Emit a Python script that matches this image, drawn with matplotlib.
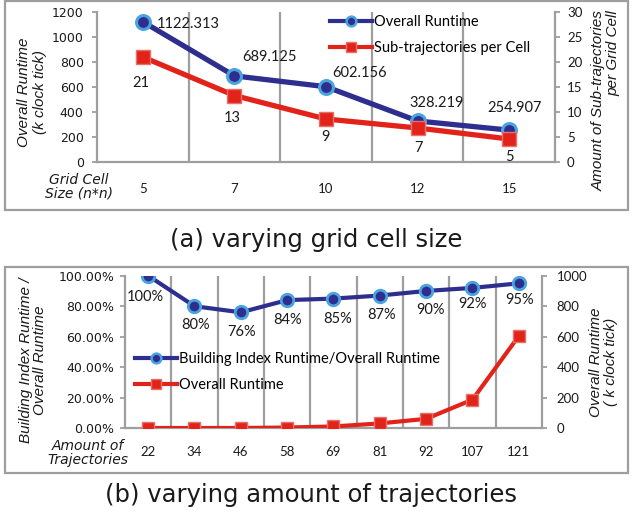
#!/usr/bin/env python3
"""Runtime vs grid cell size / amount of trajectories (two-panel dual-axis line chart)."""

import matplotlib

matplotlib.use("Agg")
import matplotlib.pyplot as plt
from matplotlib.lines import Line2D
from matplotlib.patches import Rectangle
from matplotlib.ticker import FuncFormatter

# ── Data ─────────────────────────────────────────────────────────────────────
grid_sizes = ["5", "7", "10", "12", "15"]
runtime_a = [1122.313, 689.125, 602.156, 328.219, 254.907]
subtraj_per_cell = [21, 13.3, 8.6, 6.8, 4.6]

traj_counts = ["22", "34", "46", "58", "69", "81", "92", "107", "121"]
index_ratio = [100, 80, 76, 84, 85, 87, 90, 92, 95]
runtime_b = [2, 2, 2, 5, 12, 32, 62, 188, 605]

# ── Style ────────────────────────────────────────────────────────────────────
NAVY = "#2E2E8E"
LIGHT_BLUE = "#4AA3DF"
RED = "#E2231A"
RED_EDGE = "#E8706A"
GRAY = "#9E9E9E"
TXT = "#1a1a1a"

W, H = 632, 513
PX = 0.72  # points per pixel at dpi 100

# label offsets in pixels (dx, dy; dy positive = down)
off_runtime_a = [(45, 2), (35, -19), (34, -14), (19, -18), (5, -22)]
off_subtraj = [(-2, 26), (-2, 22), (-1, 18), (1, 20), (0, 18)]
off_ratio = [(-3, 21), (1, 19), (1, 20), (0, 20), (4, 20), (2, 19), (4, 19), (0, 16), (1, 17)]


def fx(px):
    return px / W


def fy(py):
    return 1 - py / H


def style_axes(ax, ax2):
    for s in ("top", "right"):
        ax.spines[s].set_visible(False)
    for s in ("top", "left", "bottom"):
        ax2.spines[s].set_visible(False)
    for sp in (ax.spines["left"], ax.spines["bottom"], ax2.spines["right"]):
        sp.set_color(GRAY)
        sp.set_linewidth(1.6)
    ax.tick_params(axis="y", direction="out", length=3.6, width=1.3, color=GRAY,
                   labelsize=9, labelcolor=TXT, pad=6)
    ax2.tick_params(axis="y", direction="out", length=3.6, width=1.3, color=GRAY,
                    labelsize=9.5, labelcolor=TXT, pad=5)
    for lab in ax2.get_yticklabels():
        lab.set_family("Lato")
    ax.tick_params(axis="x", length=0, labelsize=9.5, labelcolor=TXT)
    for lab in ax.get_xticklabels():
        lab.set_family("Lato")


def main():
    plt.rcParams.update({"font.family": "DejaVu Sans"})
    fig = plt.figure(figsize=(W / 100, H / 100), dpi=100)
    fig.patch.set_facecolor("white")

    # ── Panel boxes ──────────────────────────────────────────────────────────
    for top, bot in ((1, 210), (267, 473)):
        fig.patches.append(Rectangle((fx(5), fy(bot)), fx(628) - fx(5), fy(top) - fy(bot),
                                     transform=fig.transFigure, fill=False,
                                     ec=GRAY, lw=1.6, zorder=0))

    # ── Panel (a) ────────────────────────────────────────────────────────────
    ax_a = fig.add_axes([fx(97), fy(162), fx(555) - fx(97), fy(12) - fy(162)])
    ax_a2 = ax_a.twinx()
    xa = range(len(grid_sizes))
    for b in range(len(grid_sizes) - 1):
        ax_a.axvline(b + 0.5, color=GRAY, lw=1.6, zorder=0)
    ax_a.plot(xa, runtime_a, color=NAVY, lw=3.8, marker="o", ms=10,
              mfc=NAVY, mec=LIGHT_BLUE, mew=2.2, zorder=3)
    ax_a2.plot(xa, subtraj_per_cell, color=RED, lw=3.8, marker="s", ms=9.6,
               mfc=RED, mec=RED_EDGE, mew=1.0, zorder=3)
    ax_a.set_xlim(-0.5, len(grid_sizes) - 0.5)
    ax_a.set_ylim(0, 1200)
    ax_a.set_yticks(range(0, 1201, 200))
    ax_a2.set_ylim(0, 30)
    ax_a2.set_yticks(range(0, 31, 5))
    ax_a.set_xticks(list(xa))
    ax_a.set_xticklabels(grid_sizes)
    style_axes(ax_a, ax_a2)
    ax_a.tick_params(axis="x", pad=15)

    for i, v in enumerate(runtime_a):
        dx, dy = off_runtime_a[i]
        ax_a.annotate(f"{v:.3f}", (i, v), xytext=(dx * PX, -dy * PX),
                      textcoords="offset points", ha="center", va="center",
                      fontsize=10.5, family="Lato", color=TXT)
    for i, v in enumerate(subtraj_per_cell):
        dx, dy = off_subtraj[i]
        ax_a2.annotate(f"{v:.0f}", (i, v), xytext=(dx * PX, -dy * PX),
                       textcoords="offset points", ha="center", va="center",
                       fontsize=10.5, family="Lato", color=TXT)

    fig.text(fx(32), fy(92), "Overall Runtime\n(k clock tick)", rotation=90,
             ha="center", va="center", fontsize=11, style="italic",
             family="Liberation Sans", linespacing=1.2, color=TXT)
    fig.text(fx(606), fy(101), "Amount of Sub-trajectories\nper Grid Cell", rotation=90,
             ha="center", va="center", multialignment="right", fontsize=11,
             style="italic", family="Liberation Sans", linespacing=1.0, color=TXT)
    fig.text(fx(79), fy(187), "Grid Cell\nSize (n*n)", ha="center", va="center",
             fontsize=10, style="italic", linespacing=1.0, color=TXT)

    h_a = [
        Line2D([], [], color=NAVY, lw=3, marker="o", ms=7, mfc=NAVY,
               mec=LIGHT_BLUE, mew=1.8),
        Line2D([], [], color=RED, lw=3, marker="s", ms=7, mfc=RED,
               mec=RED_EDGE, mew=1.0),
    ]
    fig.legend(h_a, ["Overall Runtime", "Sub-trajectories per Cell"],
               loc="upper left", bbox_to_anchor=(fx(330), fy(15)),
               frameon=False, borderpad=0, borderaxespad=0, handlelength=2.9,
               handletextpad=0.1, labelspacing=0.8,
               prop={"family": "Lato", "size": 10.5})

    fig.text(fx(316), fy(240), "(a) varying grid cell size", ha="center",
             va="center", fontsize=17.5, color=TXT)

    # ── Panel (b) ────────────────────────────────────────────────────────────
    ax_b = fig.add_axes([fx(125), fy(428.3), fx(542) - fx(125), fy(275.7) - fy(428.3)])
    ax_b2 = ax_b.twinx()
    xb = range(len(traj_counts))
    for b in range(len(traj_counts) - 1):
        ax_b.axvline(b + 0.5, color=GRAY, lw=1.6, zorder=0)
    ax_b.plot(xb, index_ratio, color=NAVY, lw=3.0, marker="o", ms=9,
              mfc=NAVY, mec=LIGHT_BLUE, mew=2.0, zorder=3)
    ax_b2.plot(xb, runtime_b, color=RED, lw=3.0, marker="s", ms=8.8,
               mfc=RED, mec=RED_EDGE, mew=1.0, zorder=3)
    ax_b.set_xlim(-0.5, len(traj_counts) - 0.5)
    ax_b.set_ylim(0, 100)
    ax_b.set_yticks(range(0, 101, 20))
    ax_b.yaxis.set_major_formatter(FuncFormatter(lambda v, _: f"{v:.2f}%"))
    ax_b2.set_ylim(0, 1000)
    ax_b2.set_yticks(range(0, 1001, 200))
    ax_b.set_xticks(list(xb))
    ax_b.set_xticklabels(traj_counts)
    style_axes(ax_b, ax_b2)
    ax_b.tick_params(axis="y", pad=4)
    ax_b2.tick_params(axis="y", pad=7)
    ax_b.tick_params(axis="x", pad=13)

    for i, v in enumerate(index_ratio):
        dx, dy = off_ratio[i]
        ax_b.annotate(f"{v:.0f}%", (i, v), xytext=(dx * PX, -dy * PX),
                      textcoords="offset points", ha="center", va="center",
                      fontsize=10.5, family="Lato", color=TXT)

    fig.text(fx(33.5), fy(360), "Building Index Runtime /\nOverall Runtime", rotation=90,
             ha="center", va="center", fontsize=11, style="italic",
             family="Liberation Sans", linespacing=1.0, color=TXT)
    fig.text(fx(603.5), fy(362), "Overall Runtime\n( k clock tick)", rotation=90,
             ha="center", va="center", fontsize=11, style="italic",
             family="Liberation Sans", linespacing=1.0, color=TXT)
    fig.text(fx(88), fy(453), "Amount of\nTrajectories", ha="center", va="center",
             fontsize=10, style="italic", linespacing=1.0, color=TXT)

    h_b = [
        Line2D([], [], color=NAVY, lw=3, marker="o", ms=7, mfc=NAVY,
               mec=LIGHT_BLUE, mew=1.8),
        Line2D([], [], color=RED, lw=3, marker="s", ms=7, mfc=RED,
               mec=RED_EDGE, mew=1.0),
    ]
    fig.legend(h_b, ["Building Index Runtime/Overall Runtime", "Overall Runtime"],
               loc="upper left", bbox_to_anchor=(fx(135), fy(352)),
               frameon=False, borderpad=0, borderaxespad=0, handlelength=2.9,
               handletextpad=0.1, labelspacing=0.8,
               prop={"family": "Lato", "size": 10.5})

    fig.text(fx(311), fy(495), "(b) varying amount of trajectories", ha="center",
             va="center", fontsize=17.5, color=TXT)

    fig.savefig("out.png", dpi=100, facecolor="white")
    plt.close(fig)


if __name__ == "__main__":
    main()
